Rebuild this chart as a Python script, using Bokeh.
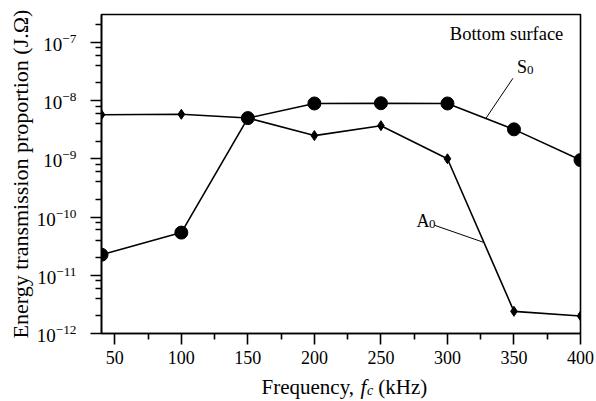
from bokeh.plotting import figure
from bokeh.layouts import column
from bokeh.models import ColumnDataSource, FixedTicker, Label, Range1d, LogTickFormatter
from bokeh.embed import file_html
from bokeh.resources import INLINE

# Centre frequency of the excitation (kHz)
freq_khz = [40, 100, 150, 200, 250, 300, 350, 400]
# Energy transmission proportion on the bottom surface (J.Ω)
s0_energy = [2.25e-11, 5.4e-11, 5.0e-9, 8.9e-9, 9.0e-9, 8.9e-9, 3.2e-9, 9.5e-10]
a0_energy = [5.7e-9, 5.8e-9, 5.0e-9, 2.5e-9, 3.7e-9, 1.0e-9, 2.4e-12, 2.0e-12]

x_major_ticks = [50, 100, 150, 200, 250, 300, 350, 400]
x_minor_ticks = [75, 125, 175, 225, 275, 325, 375]
y_major_ticks = [1e-12, 1e-11, 1e-10, 1e-9, 1e-8, 1e-7]
y_minor_ticks = [m * 10.0 ** e for e in range(-12, -6) for m in (2, 4, 6, 8)]

FONT = "Liberation Serif"
INK = "black"
TITLE_STRIP = 30  # height of the strip holding the x-axis title
LEFT, FRAME_W, RIGHT = 101, 479, 16

p = figure(
    frame_width=FRAME_W, frame_height=319,
    min_border_left=LEFT, min_border_right=RIGHT, min_border_top=14,
    min_border_bottom=401 - TITLE_STRIP - 333,
    x_range=Range1d(40, 400), y_range=Range1d(1e-12, 3e-7),
    y_axis_type="log",
    output_backend="svg", toolbar_location=None,
    background_fill_color="white", border_fill_color="white",
)
p.grid.visible = False
p.outline_line_color = INK
p.outline_line_width = 1.6

for ax in (p.xaxis[0], p.yaxis[0]):
    ax.axis_line_color = INK
    ax.axis_line_width = 1.6
    ax.major_tick_line_color = INK
    ax.major_tick_line_width = 1.6
    ax.minor_tick_line_color = INK
    ax.minor_tick_line_width = 1.6
    ax.major_tick_in = 0
    ax.major_tick_out = 11
    ax.minor_tick_in = 0
    ax.minor_tick_out = 6
    ax.major_label_text_font = FONT
    ax.major_label_text_color = INK

p.xaxis.ticker = FixedTicker(ticks=x_major_ticks, minor_ticks=x_minor_ticks)
p.xaxis.major_label_text_font_size = "18px"
p.xaxis.major_label_standoff = 6
p.yaxis.ticker = FixedTicker(ticks=y_major_ticks, minor_ticks=y_minor_ticks)
p.yaxis.formatter = LogTickFormatter()
p.yaxis.major_label_text_font_size = "19px"
p.yaxis.major_label_standoff = 14

p.yaxis.axis_label = "Energy transmission proportion (J.Ω)"
p.yaxis.axis_label_text_font = FONT
p.yaxis.axis_label_text_font_size = "22px"
p.yaxis.axis_label_text_font_style = "normal"
p.yaxis.axis_label_text_color = INK
p.yaxis.axis_label_standoff = 1

src = ColumnDataSource(dict(f=freq_khz, s0=s0_energy, a0=a0_energy))

p.line("f", "s0", source=src, line_color=INK, line_width=1.6)
p.scatter("f", "s0", source=src, marker="circle", size=13,
          fill_color=INK, line_color=INK)
p.line("f", "a0", source=src, line_color=INK, line_width=1.6)
p.scatter("f", "a0", source=src, marker="diamond", size=10,
          fill_color=INK, line_color=INK)

# leader lines from the mode names to their curves
s0_leader_x = [349.2, 328.9]
s0_leader_y = [2.41e-8, 4.95e-9]
a0_leader_x = [290.6, 326.9]
a0_leader_y = [7.18e-11, 3.69e-11]
p.line(s0_leader_x, s0_leader_y, line_color=INK, line_width=1.0)
p.line(a0_leader_x, a0_leader_y, line_color=INK, line_width=1.0)


def add_text(fig, x, y, text, size, align="left", style="normal", dx=0, dy=0):
    fig.add_layout(Label(
        x=x, y=y, text=text, x_offset=dx, y_offset=dy,
        text_font=FONT, text_font_size=size, text_font_style=style,
        text_color=INK, text_align=align, text_baseline="alphabetic",
    ))


add_text(p, 387.1, 1.41e-7, "Bottom surface", "18.5px", align="right")

# mode names with subscripts
add_text(p, 356.0, 3.7e-8, "S", "18px", align="center")
add_text(p, 356.0, 3.7e-8, "0", "13px", dx=5, dy=-3)
add_text(p, 281.6, 8.5e-11, "A", "18px", align="center")
add_text(p, 281.6, 8.5e-11, "0", "13px", dx=6, dy=-3)

# strip below the plot carrying the x-axis title "Frequency, f_c (kHz)";
# its frame lines up with the plot frame and is measured in pixels
t = figure(
    frame_width=FRAME_W, frame_height=TITLE_STRIP,
    min_border_left=LEFT, min_border_right=RIGHT,
    min_border_top=0, min_border_bottom=0,
    x_range=Range1d(LEFT, LEFT + FRAME_W), y_range=Range1d(0, TITLE_STRIP),
    output_backend="svg", toolbar_location=None,
    background_fill_color="white", border_fill_color="white",
)
t.axis.visible = False
t.grid.visible = False
t.outline_line_color = None

base_y = 15
add_text(t, 261.0, base_y, "Frequency,", "21px")
add_text(t, 360.1, base_y, "f", "21px", style="italic")
add_text(t, 366.4, base_y - 4, "c", "14px", style="italic")
add_text(t, 377.8, base_y, "(kHz)", "21px")

layout = column(p, t, spacing=0)
open("out.html", "w").write(file_html(layout, INLINE))
